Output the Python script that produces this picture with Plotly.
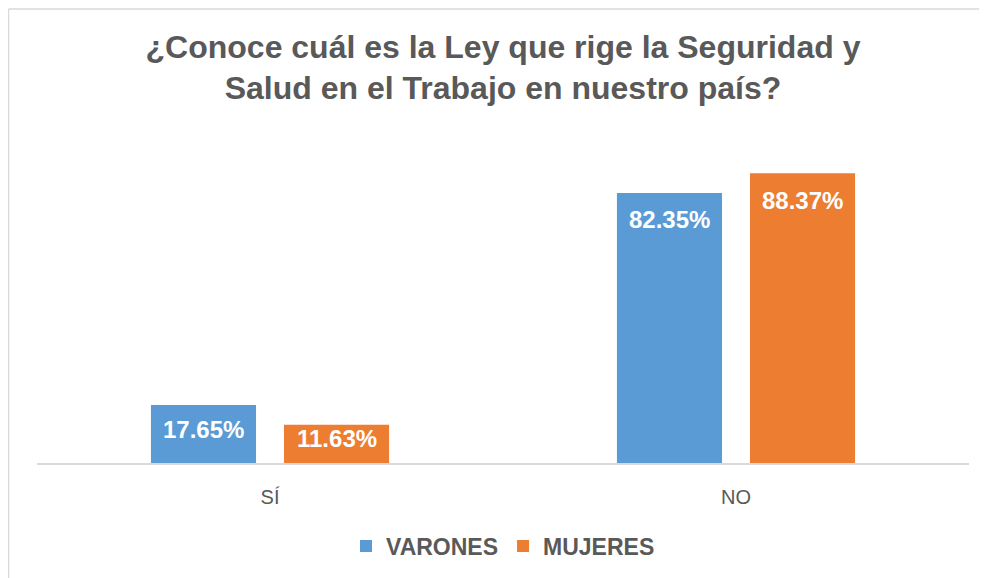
import plotly.graph_objects as go

categories = ["SÍ", "NO"]
varones = [17.65, 82.35]
mujeres = [11.63, 88.37]
series_names = ["VARONES", "MUJERES"]
title_text = "¿Conoce cuál es la Ley que rige la Seguridad y<br>Salud en el Trabajo en nuestro país?"

BLUE = "#5B9BD5"
ORANGE = "#ED7D31"
GREY = "#595959"
FONT = "Liberation Sans, Arial, sans-serif"

W, H = 979, 570
L, R, T, B = 29, 18, 127, 115
BARGAP = 0.429
BARGROUPGAP = 0.21
YMAX = 100
plot_h = H - T - B
px_per_unit = plot_h / YMAX

fig = go.Figure()
series = [(series_names[0], varones, BLUE), (series_names[1], mujeres, ORANGE)]
for name, vals, col in series:
    fig.add_trace(go.Bar(
        x=categories, y=vals, name=name,
        marker=dict(color=col, line=dict(width=0)),
        hoverinfo="x+y+name",
    ))

# data labels inside the end of each bar
annotations = []
slot = (1 - BARGAP) / len(series)
for i, (name, vals, col) in enumerate(series):
    offset = (i - (len(series) - 1) / 2) * slot
    for j, v in enumerate(vals):
        bar_px = v * px_per_unit
        shift = -min(27, bar_px / 2 - 5)
        annotations.append(dict(
            x=j + offset, y=v, xref="x", yref="y", yshift=shift,
            text=f"{v:.2f}%", showarrow=False, yanchor="middle", xanchor="center",
            font=dict(family=FONT, size=24, color="white", weight="bold"),
        ))

bx0 = -28.5 / (W - L - R)
by1 = (H - B - 1) / plot_h
border = dict(color="#D9D9D9", width=1.5)

fig.update_layout(
    width=W, height=H,
    paper_bgcolor="white", plot_bgcolor="white",
    margin=dict(l=L, r=R, t=T, b=B, autoexpand=False),
    barmode="group", bargap=BARGAP, bargroupgap=BARGROUPGAP,
    title=dict(text=title_text, x=0.5056, xanchor="center", y=1 - 49.5 / H, yanchor="middle",
               font=dict(family=FONT, size=32, color=GREY, weight="bold")),
    showlegend=True,
    legend=dict(orientation="h", x=0.5, xanchor="center", y=-0.1875, yanchor="top",
                font=dict(family=FONT, size=23, color=GREY, weight="bold")),
    xaxis=dict(showline=True, linecolor="#D9D9D9", linewidth=2,
               ticks="outside", ticklen=15, tickcolor="rgba(0,0,0,0)",
               tickfont=dict(family=FONT, size=20, color=GREY)),
    yaxis=dict(range=[0, YMAX], visible=False, showgrid=False, zeroline=False),
    annotations=annotations,
    shapes=[
        dict(type="line", xref="paper", yref="paper", x0=bx0, x1=1.5, y0=by1, y1=by1,
             line=border, layer="below"),
        dict(type="line", xref="paper", yref="paper", x0=bx0, x1=bx0, y0=-2, y1=by1,
             line=border, layer="below"),
    ],
)

fig.write_html("out.html")
